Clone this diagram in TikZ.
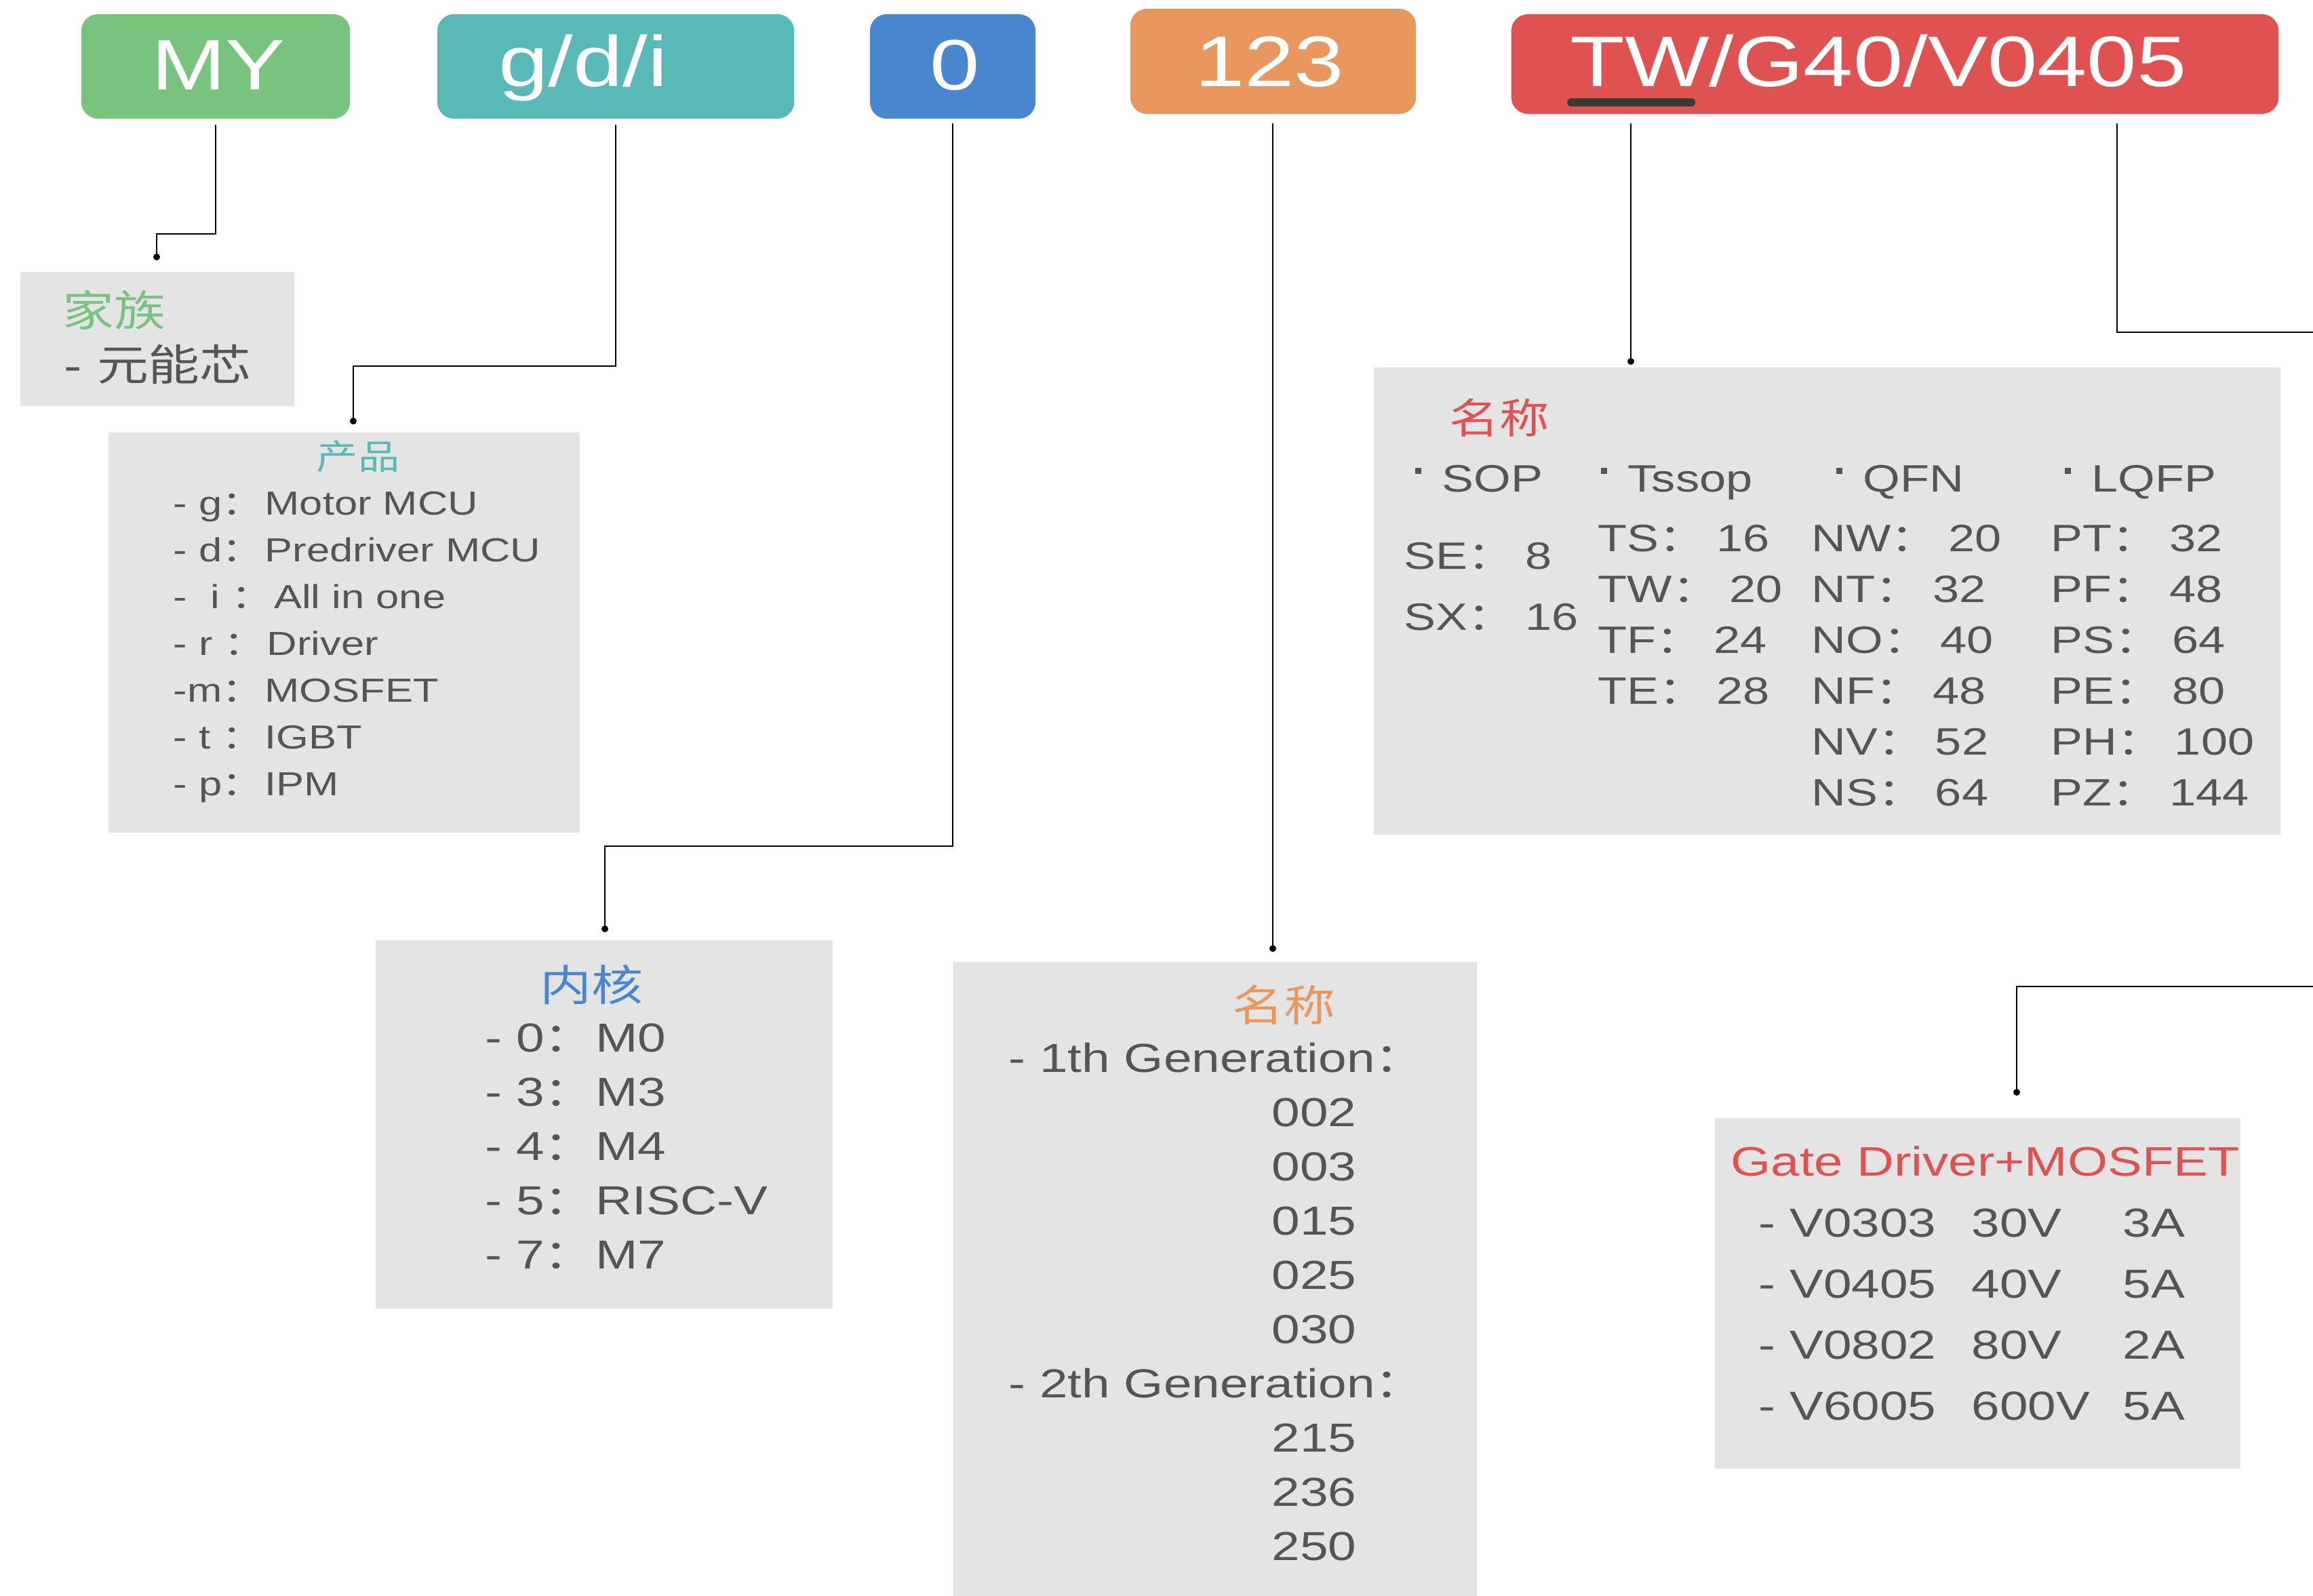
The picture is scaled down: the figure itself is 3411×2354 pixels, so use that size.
\documentclass[tikz,border=0pt]{standalone}
\usepackage{fontspec}
\setmainfont{Liberation Sans}[FakeStretch=1.25]
\newfontfamily\cjk{Noto Sans CJK SC}[FakeStretch=1.2]
\newcommand\cc{{\cjk ：}\kern0.04cm}
\newcommand\cct{{\cjk ：}\kern0.17cm}
\newcommand\bul{\rule[0.46em]{0.16em}{0.16em}\kern0.31cm}
\definecolor{cgreen}{HTML}{78C47E}
\definecolor{cteal}{HTML}{58B9B6}
\definecolor{cblue}{HTML}{4A86CF}
\definecolor{corange}{HTML}{E9975F}
\definecolor{cred}{HTML}{E05252}
\definecolor{cbox}{HTML}{E4E4E4}
\definecolor{ctext}{HTML}{555555}
\definecolor{cbar}{HTML}{3A3A3A}
\begin{document}
\begin{tikzpicture}[x=0.01cm, y=-0.01cm,
  conn/.style={draw=black, line width=0.6pt},
  topbox/.style={rectangle, rounded corners=7pt, inner sep=0pt},
  graybox/.style={rectangle, fill=cbox, inner sep=0pt, anchor=north west},
  toptext/.style={text=white, font=\fontsize{30}{30}\selectfont, inner sep=0pt, anchor=base},
  title/.style={inner sep=0pt, font=\cjk\fontsize{#1}{#1}\selectfont},
  lst/.style={inner sep=0pt, anchor=base west, text=ctext, font=\fontsize{#1}{#1}\selectfont}]
\useasboundingbox (0,0) rectangle (3411,2354);

% top code boxes
\node[topbox, fill=cgreen, minimum width=3.96cm, minimum height=1.54cm] (my) at (318,98) {};
\node[topbox, fill=cteal, minimum width=5.26cm, minimum height=1.54cm] (gdi) at (908,98) {};
\node[topbox, fill=cblue, minimum width=2.44cm, minimum height=1.54cm] (zero) at (1405,98) {};
\node[topbox, fill=corange, minimum width=4.21cm, minimum height=1.55cm] (n123) at (1877.5,90.5) {};
\node[topbox, fill=cred, minimum width=11.31cm, minimum height=1.47cm] (tw) at (2794.5,94.5) {};
\node[toptext] (myt) at (322,132) {MY};
\node[toptext] (gdit) at (860,127) {g/d/i};
\node[toptext] (zerot) at (1408,132) {0};
\node[toptext] (n123t) at (1872,127) {123};
\node[toptext] (twt) at (2770,127) {TW/G40/V0405};
\draw[line width=0.12cm, line cap=round, cbar] (2317,151) -- (2494,151);

% gray boxes
\node[graybox, minimum width=4.04cm, minimum height=1.98cm] (fam) at (29,400) {};
\node[graybox, minimum width=6.95cm, minimum height=5.90cm] (prod) at (159,637) {};
\node[graybox, minimum width=6.74cm, minimum height=5.43cm] (core) at (553,1386) {};
\node[graybox, minimum width=7.72cm, minimum height=9.36cm] (gen) at (1405,1418) {};
\node[graybox, minimum width=13.36cm, minimum height=6.89cm] (pkg) at (2025,541) {};
\node[graybox, minimum width=7.75cm, minimum height=5.17cm] (gd) at (2528,1648) {};

% connectors
\coordinate (famdot) at (231,379);
\coordinate (proddot) at (521,621);
\coordinate (coredot) at (892,1370);
\coordinate (gendot) at (1877,1399);
\coordinate (pkgdot) at (2405,533);
\coordinate (twr) at (3122,490);
\coordinate (edgeA) at (3411,490);
\coordinate (edgeB) at (3411,1455);
\coordinate (gddot) at (2974,1611);
\draw[conn, shorten <=0.08cm] (my.south) -- ++(0,169) -| (famdot);
\draw[conn, shorten <=0.08cm] (gdi.south) -- ++(0,364) -| (proddot);
\draw[conn, shorten <=0.06cm] (zero.south) -- ++(0,1072) -| (coredot);
\draw[conn, shorten <=0.13cm] (n123.south -| gendot) -- (gendot);
\draw[conn, shorten <=0.13cm] (tw.south -| pkgdot) -- (pkgdot);
\draw[conn, shorten <=0.13cm] (tw.south -| twr) -- (twr) -- (edgeA);
\draw[conn] (edgeB) -| (gddot);
\foreach \d in {famdot,proddot,coredot,gendot,pkgdot,gddot}
  \fill (\d) circle[radius=0.05cm];

% family
\node[title=18, text=cgreen, anchor=west] (famt) at (92,457) {家族};
\node[inner sep=0pt, anchor=west, text=ctext, font=\fontsize{18}{18}\selectfont] (faml) at (94,537) {- {\cjk 元能芯}};

% product
\node[title=14.5, text=cteal] (prodt) at (528,673) {产品};
\foreach \t [count=\i from 0] in {- g\cc Motor MCU, - d\cc Predriver MCU, -\ \ i \cc All in one, - r \cc Driver, -m\cc MOSFET, - t \cc IGBT, - p\cc IPM}
  \node[lst=14] (prod\i) at (255,{759+69*\i}) {\t};

% core
\node[title=18, text=cblue] (coret) at (872,1452) {内核};
\foreach \t [count=\i from 0] in {- 0\cc M0, - 3\cc M3, - 4\cc M4, - 5\cc RISC-V, - 7\cc M7}
  \node[lst=17] (core\i) at (715,{1551+80*\i}) {\t};

% generation
\node[title=18, text=corange] (gent) at (1893,1482) {名称};
\node[lst=17] (gena) at (1487,1581) {- 1th Generation\cc};
\node[lst=17] (genb) at (1487,2061) {- 2th Generation\cc};
\foreach \t [count=\i from 1] in {002,003,015,025,030}
  \node[lst=17] (gn\i) at (1875,{1581+80*\i}) {\t};
\foreach \t [count=\i from 7] in {215,236,250}
  \node[lst=17] (gm\i) at (1875,{1581+80*\i}) {\t};

% package
\node[title=17.4, text=cred] (pkgt) at (2211,616) {名称};
\node[lst=16] (hsop) at (2086,725) {\bul SOP};
\node[lst=16] (htss) at (2360,725) {\bul Tssop};
\node[lst=16] (hqfn) at (2707,725) {\bul QFN};
\node[lst=16] (hlq) at (3044,725) {\bul LQFP};
\node[lst=16] (se) at (2070,839) {SE\cct 8};
\node[lst=16] (sx) at (2070,929) {SX\cct 16};
\foreach \t [count=\i from 0] in {TS\cct 16, TW\cct 20, TF\cct 24, TE\cct 28}
  \node[lst=16] (ts\i) at (2356,{813+75*\i}) {\t};
\foreach \t [count=\i from 0] in {NW\cct 20, NT\cct 32, NO\cct 40, NF\cct 48, NV\cct 52, NS\cct 64}
  \node[lst=16] (qf\i) at (2671,{813+75*\i}) {\t};
\foreach \t [count=\i from 0] in {PT\cct 32, PF\cct 48, PS\cct 64, PE\cct 80, PH\cct 100, PZ\cct 144}
  \node[lst=16] (lq\i) at (3024,{813+75*\i}) {\t};

% gate driver
\node[lst=17.3, text=cred] (gdt) at (2552,1734) {Gate Driver+MOSFET};
\foreach \a/\b/\c [count=\i from 0] in {V0303/30V/3A, V0405/40V/5A, V0802/80V/2A, V6005/600V/5A}{
  \node[lst=17] (gda\i) at (2593,{1824+90*\i}) {- \a};
  \node[lst=17] (gdb\i) at (2907,{1824+90*\i}) {\b};
  \node[lst=17] (gdc\i) at (3130,{1824+90*\i}) {\c};
}
\end{tikzpicture}
\end{document}
